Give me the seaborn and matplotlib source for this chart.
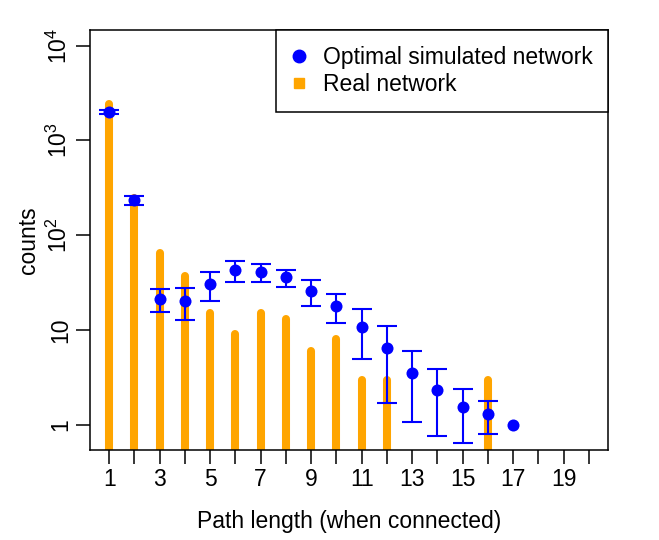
import numpy as np
import seaborn as sns
import matplotlib.pyplot as plt
from matplotlib.lines import Line2D

# path length categories
path_len = [1, 2, 3, 4, 5, 6, 7, 8, 9, 10, 11, 12, 13, 14, 15, 16, 17]
# real network counts (0 = no bar)
real_counts = [2450, 249, 65, 37, 15, 9, 15, 13, 6, 8, 3, 3, 0, 0, 0, 3, 0]
# optimal simulated network, mean and sd
sim_mean = [2000, 234, 21.3, 20.3, 30.7, 42.6, 41, 36, 25.9, 17.9, 10.8, 6.4, 3.57, 2.31, 1.53, 1.29, 1.0]
sim_sd = [100, 23, 5.8, 7.6, 10.6, 10.7, 8.8, 7.5, 8.0, 6.0, 5.9, 4.7, 2.5, 1.55, 0.88, 0.49, 0.0]

x_ticks = list(range(1, 21))
x_labels = [str(t) if t % 2 == 1 else "" for t in x_ticks]
y_ticks = [1, 10, 100, 1000, 10000]
y_labels = ["1", "10", "$10^{2}$", "$10^{3}$", "$10^{4}$"]

sns.set_style("white")
plt.rcParams['font.family'] = ['Liberation Sans', 'DejaVu Sans']
plt.rcParams['mathtext.fontset'] = 'custom'
plt.rcParams['mathtext.rm'] = 'Liberation Sans'
plt.rcParams['mathtext.it'] = 'Liberation Sans:italic'
plt.rcParams['text.color'] = 'black'
plt.rcParams['axes.labelcolor'] = 'black'
plt.rcParams['xtick.color'] = 'black'
plt.rcParams['ytick.color'] = 'black'
fs = 16.5

fig = plt.figure(figsize=(6.59, 5.4), dpi=100)
ax = fig.add_axes([0.1366, 0.1667, 0.786, 0.7777])

# real network as thick vertical lines
px = [p for p, c in zip(path_len, real_counts) if c > 0]
pc = [c for c in real_counts if c > 0]
ax.vlines(px, 0.1, pc, color="orange", linewidth=5.8, capstyle="round", zorder=1)

# simulated: mean +- sd (no bar where sd is zero)
ex = [p for p, s in zip(path_len, sim_sd) if s > 0]
ey = [m for m, s in zip(sim_mean, sim_sd) if s > 0]
es = [s for s in sim_sd if s > 0]
ax.errorbar(ex, ey, yerr=es, fmt="none", ecolor="blue",
            elinewidth=1.5, capsize=7, capthick=1.5, zorder=2)
sns.scatterplot(x=path_len, y=sim_mean, color="blue", s=75, edgecolor="blue",
                linewidth=0, ax=ax, zorder=3)

ax.set_yscale("log")
ax.set_xlim(0.24, 20.76)
ax.set_ylim(10 ** -0.264, 10 ** 4.164)
ax.set_xticks(x_ticks)
ax.set_xticklabels(x_labels, fontsize=fs)
ax.set_yticks(y_ticks)
ax.set_yticklabels(y_labels, fontsize=fs, rotation=90, va="center")
ax.yaxis.set_minor_locator(plt.NullLocator())
ax.tick_params(axis="both", direction="out", length=10, width=1.1, color="black",
               labelcolor="black", left=True, bottom=True)
ax.tick_params(axis="x", pad=3)
ax.tick_params(axis="y", pad=3)
for s in ax.spines.values():
    s.set_color("black")
    s.set_linewidth(1.1)

ax.set_xlabel("Path length (when connected)", fontsize=fs, labelpad=14)
ax.set_ylabel("counts", fontsize=fs, labelpad=5)

handles = [
    Line2D([], [], marker="o", color="blue", linestyle="none", markersize=9),
    Line2D([], [], marker="s", color="orange", linestyle="none", markersize=7),
]
leg = ax.legend(handles, ["Optimal simulated network", "Real network"],
                loc="upper right", borderaxespad=0, fontsize=fs, fancybox=False,
                framealpha=1, edgecolor="black", handletextpad=0.75,
                handlelength=0.6, borderpad=0.68, labelspacing=0.2)
leg.get_frame().set_linewidth(1.1)

fig.savefig("out.png", dpi=100)
